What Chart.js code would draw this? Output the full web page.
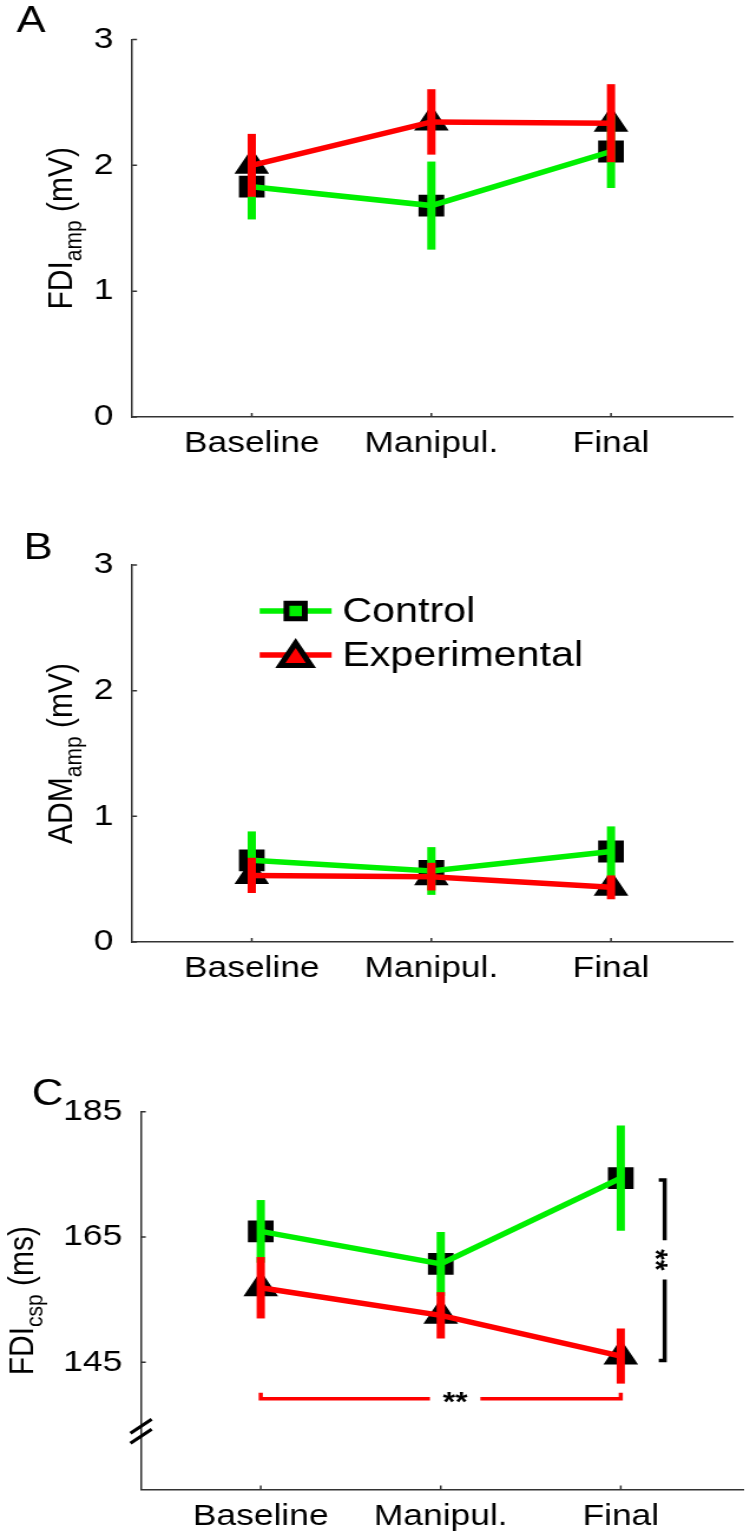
<!DOCTYPE html>
<html>
<head>
<meta charset="utf-8">
<script src="https://cdn.jsdelivr.net/npm/chart.js@4.4.1/dist/chart.umd.min.js"></script>
<style>
  body { margin: 0; background: #fff; overflow: hidden; }
  canvas { display: block; }
</style>
</head>
<body>
<!-- canvases are drawn narrower and stretched to 750px wide, like the original figure -->
<canvas id="chartA" width="636" height="480" style="width:750px;height:480px"></canvas>
<canvas id="chartB" width="636" height="510" style="width:750px;height:510px"></canvas>
<canvas id="chartC" width="636" height="543" style="width:750px;height:543px"></canvas>
<script>
// ---- data ----
const conditions = ["Baseline", "Manipul.", "Final"];
const seriesNames = ["Control", "Experimental"];

// A: FDI amplitude (mV)
const fdiAmpControl = [1.83, 1.68, 2.11];
const fdiAmpControlErr = [0.26, 0.35, 0.29];
const fdiAmpExperimental = [2.0, 2.345, 2.335];
const fdiAmpExperimentalErr = [0.25, 0.26, 0.31];

// B: ADM amplitude (mV)
const admAmpControl = [0.65, 0.565, 0.72];
const admAmpControlErr = [0.23, 0.19, 0.2];
const admAmpExperimental = [0.53, 0.52, 0.435];
const admAmpExperimentalErr = [0.14, 0.11, 0.095];

// C: FDI cortical silent period (ms)
const fdiCspControl = [165.9, 160.7, 174.4];
const fdiCspControlErr = [5.0, 5.1, 8.4];
const fdiCspExperimental = [156.9, 152.5, 146.0];
const fdiCspExperimentalErr = [4.9, 3.7, 4.4];

const ampTicks = [0, 1, 2, 3];
const cspTicks = [145, 165, 185];

// significance markers in panel C
const timeBracket = { y: 139.2, from: 1, to: 3, gapFrom: 1.94, gapTo: 2.22, label: "**" };
const groupBracket = { x: 3.244, from: 145.3, to: 174.1, gapFrom: 158.2, gapTo: 164.5, label: "**" };
const axisBreakAt = 134;

const GREEN = "rgb(0,240,0)";
const RED = "rgb(255,0,0)";
const AXIS = "#333";
const FONT_FAMILY = '"Liberation Sans", Arial, sans-serif';

function toPoints(values) {
  return values.map((v, i) => ({ x: i + 1, y: v }));
}

function makeDatasets(control, controlErr, experimental, experimentalErr) {
  // lower order is drawn on top: markers first, then lines + error bars
  return [
    { label: seriesNames[1], data: toPoints(experimental), errors: experimentalErr,
      borderColor: RED, borderWidth: 5.5, pointRadius: 0, tension: 0, order: 1 },
    { label: seriesNames[0], data: toPoints(control), errors: controlErr,
      borderColor: GREEN, borderWidth: 5.5, pointRadius: 0, tension: 0, order: 2 },
    { label: seriesNames[1] + " markers", data: toPoints(experimental), showLine: false,
      pointStyle: "triangle", pointRadius: 15, pointBorderWidth: 2,
      pointBackgroundColor: "#000", pointBorderColor: "#000", order: 3 },
    { label: seriesNames[0] + " markers", data: toPoints(control), showLine: false,
      pointStyle: "rect", pointRadius: 14, pointBorderWidth: 2,
      pointBackgroundColor: "#000", pointBorderColor: "#000", order: 4 },
  ];
}

// vertical error bars, drawn right after their line
const errorBars = {
  id: "errorBars",
  afterDatasetDraw(chart, args) {
    const ds = chart.data.datasets[args.index];
    if (!ds.errors) return;
    const { ctx } = chart;
    const x = chart.scales.x;
    const y = chart.scales.y;
    ctx.save();
    ctx.strokeStyle = ds.borderColor;
    ctx.lineWidth = 7;
    ds.data.forEach((pt, i) => {
      const px = x.getPixelForValue(pt.x);
      ctx.beginPath();
      ctx.moveTo(px, y.getPixelForValue(pt.y - ds.errors[i]));
      ctx.lineTo(px, y.getPixelForValue(pt.y + ds.errors[i]));
      ctx.stroke();
    });
    ctx.restore();
  },
};

function drawYTitle(ctx, parts, x, yCenter) {
  const [main, sub, unit] = parts;
  const mainFont = "30px " + FONT_FAMILY;
  const subFont = "21px " + FONT_FAMILY;
  ctx.save();
  ctx.translate(x, yCenter);
  ctx.rotate(-Math.PI / 2);
  ctx.fillStyle = "#000";
  ctx.textBaseline = "alphabetic";
  ctx.font = mainFont;
  const w1 = ctx.measureText(main).width;
  const w3 = ctx.measureText(unit).width;
  ctx.font = subFont;
  const w2 = ctx.measureText(sub).width;
  let pos = -(w1 + w2 + w3) / 2;
  ctx.font = mainFont;
  ctx.fillText(main, pos, 0);
  pos += w1;
  ctx.font = subFont;
  ctx.fillText(sub, pos, 8);
  pos += w2;
  ctx.font = mainFont;
  ctx.fillText(unit, pos, 0);
  ctx.restore();
}

// ticks, panel letter, axis title, legend, brackets
const panelDecor = {
  id: "panelDecor",
  afterDraw(chart, args, opts) {
    const { ctx, chartArea } = chart;
    const x = chart.scales.x;
    const y = chart.scales.y;
    ctx.save();

    // inward tick marks
    ctx.strokeStyle = AXIS;
    ctx.lineWidth = 1.5;
    ctx.beginPath();
    x.ticks.forEach((t) => {
      const px = x.getPixelForValue(t.value);
      ctx.moveTo(px, chartArea.bottom);
      ctx.lineTo(px, chartArea.bottom - 4);
    });
    y.ticks.forEach((t) => {
      const py = y.getPixelForValue(t.value);
      ctx.moveTo(chartArea.left, py);
      ctx.lineTo(chartArea.left + 4, py);
    });
    ctx.stroke();

    // panel letter
    ctx.fillStyle = "#000";
    ctx.font = "37px " + FONT_FAMILY;
    ctx.textBaseline = "alphabetic";
    ctx.fillText(opts.letter, opts.letterX, opts.letterY);

    drawYTitle(ctx, opts.title, opts.titleX, (chartArea.top + chartArea.bottom) / 2);

    if (opts.legend) {
      const colors = [GREEN, RED];
      const styles = ["rect", "triangle"];
      const radii = [11, 15];
      seriesNames.forEach((name, i) => {
        const ly = chartArea.top + 46 + i * 44;
        const x0 = chartArea.left + 108;
        const x1 = chartArea.left + 169;
        ctx.strokeStyle = colors[i];
        ctx.lineWidth = 5.5;
        ctx.beginPath();
        ctx.moveTo(x0, ly);
        ctx.lineTo(x1, ly);
        ctx.stroke();
        ctx.fillStyle = colors[i];
        ctx.strokeStyle = "#000";
        ctx.lineWidth = 5;
        Chart.helpers.drawPoint(ctx, { pointStyle: styles[i], radius: radii[i], borderWidth: 5, rotation: 0 },
          (x0 + x1) / 2, i === 1 ? ly + 3 : ly);
        ctx.fillStyle = "#000";
        ctx.font = "35px " + FONT_FAMILY;
        ctx.textBaseline = "middle";
        ctx.fillText(name, chartArea.left + 178, ly + 1);
      });
    }

    if (opts.brackets) {
      // time effect in experimental group
      const by = y.getPixelForValue(timeBracket.y);
      const bx0 = x.getPixelForValue(timeBracket.from);
      const bx1 = x.getPixelForValue(timeBracket.to);
      const gx0 = x.getPixelForValue(timeBracket.gapFrom);
      const gx1 = x.getPixelForValue(timeBracket.gapTo);
      ctx.strokeStyle = RED;
      ctx.lineWidth = 3.5;
      ctx.beginPath();
      ctx.moveTo(bx0, by - 6);
      ctx.lineTo(bx0, by);
      ctx.lineTo(gx0, by);
      ctx.moveTo(gx1, by);
      ctx.lineTo(bx1, by);
      ctx.lineTo(bx1, by - 6);
      ctx.stroke();
      ctx.fillStyle = "#000";
      ctx.font = "bold 27px " + FONT_FAMILY;
      ctx.textAlign = "center";
      ctx.textBaseline = "middle";
      ctx.fillText(timeBracket.label, (gx0 + gx1) / 2, by + 5);

      // group difference at final
      const gx = x.getPixelForValue(groupBracket.x);
      const gyTop = y.getPixelForValue(groupBracket.to);
      const gyBot = y.getPixelForValue(groupBracket.from);
      const gapTop = y.getPixelForValue(groupBracket.gapTo);
      const gapBot = y.getPixelForValue(groupBracket.gapFrom);
      ctx.strokeStyle = "#000";
      ctx.lineWidth = 3.5;
      ctx.beginPath();
      ctx.moveTo(gx - 5, gyTop);
      ctx.lineTo(gx, gyTop);
      ctx.lineTo(gx, gapTop);
      ctx.moveTo(gx, gapBot);
      ctx.lineTo(gx, gyBot);
      ctx.lineTo(gx - 5, gyBot);
      ctx.stroke();
      ctx.save();
      ctx.translate(gx - 4, (gapTop + gapBot) / 2);
      ctx.rotate(Math.PI / 2);
      ctx.fillText(groupBracket.label, 0, 5);
      ctx.restore();

      // axis break mark
      const ay = y.getPixelForValue(axisBreakAt);
      const ax = chartArea.left;
      ctx.strokeStyle = "#000";
      ctx.lineWidth = 3;
      ctx.beginPath();
      [-5, 5].forEach((d) => {
        ctx.moveTo(ax - 9, ay + d + 7);
        ctx.lineTo(ax + 9, ay + d - 7);
      });
      ctx.stroke();
    }
    ctx.restore();
  },
};

function buildPanel(canvasId, datasets, cfg) {
  const tickFont = { family: FONT_FAMILY, size: 30 };
  return new Chart(document.getElementById(canvasId), {
    type: "line",
    data: { datasets: datasets },
    options: {
      responsive: false,
      animation: false,
      events: [],
      layout: { autoPadding: false, padding: { top: cfg.top, right: cfg.right, left: 0, bottom: 0 } },
      plugins: {
        legend: { display: false },
        tooltip: { enabled: false },
        panelDecor: cfg,
      },
      scales: {
        x: {
          type: "linear",
          min: 0.335,
          max: 3.68,
          afterBuildTicks: (s) => { s.ticks = conditions.map((c, i) => ({ value: i + 1 })); },
          afterFit: (s) => { s.height = cfg.xHeight; },
          grid: { display: false },
          border: { display: true, color: AXIS, width: 1.5 },
          ticks: {
            color: "#000",
            font: tickFont,
            padding: 1,
            maxRotation: 0,
            autoSkip: false,
            callback: (v) => conditions[Math.round(v) - 1],
          },
        },
        y: {
          min: cfg.yMin,
          max: cfg.yMax,
          afterBuildTicks: (s) => { s.ticks = cfg.yTicks.map((v) => ({ value: v })); },
          afterFit: (s) => { s.width = cfg.left; },
          grid: { display: false },
          border: { display: true, color: AXIS, width: 1.5 },
          ticks: { color: "#000", font: tickFont, padding: 8 },
        },
      },
    },
    plugins: [errorBars, panelDecor],
  });
}

buildPanel("chartA",
  makeDatasets(fdiAmpControl, fdiAmpControlErr, fdiAmpExperimental, fdiAmpExperimentalErr),
  { letter: "A", letterX: 14, letterY: 32, title: ["FDI", "amp", " (mV)"], titleX: 61,
    top: 39.5, xHeight: 63, left: 112.2, right: 14.3, yMin: 0, yMax: 3, yTicks: ampTicks });

buildPanel("chartB",
  makeDatasets(admAmpControl, admAmpControlErr, admAmpExperimental, admAmpExperimentalErr),
  { letter: "B", letterX: 20, letterY: 79, title: ["ADM", "amp", " (mV)"], titleX: 61, legend: true,
    top: 85, xHeight: 48, left: 112.2, right: 14.3, yMin: 0, yMax: 3, yTicks: ampTicks });

buildPanel("chartC",
  makeDatasets(fdiCspControl, fdiCspControlErr, fdiCspExperimental, fdiCspExperimentalErr),
  { letter: "C", letterX: 27, letterY: 115, title: ["FDI", "csp", " (ms)"], titleX: 28, brackets: true,
    top: 121.7, xHeight: 43.5, left: 119.6, right: 5.8, yMin: 124.7, yMax: 185, yTicks: cspTicks });
</script>
</body>
</html>
